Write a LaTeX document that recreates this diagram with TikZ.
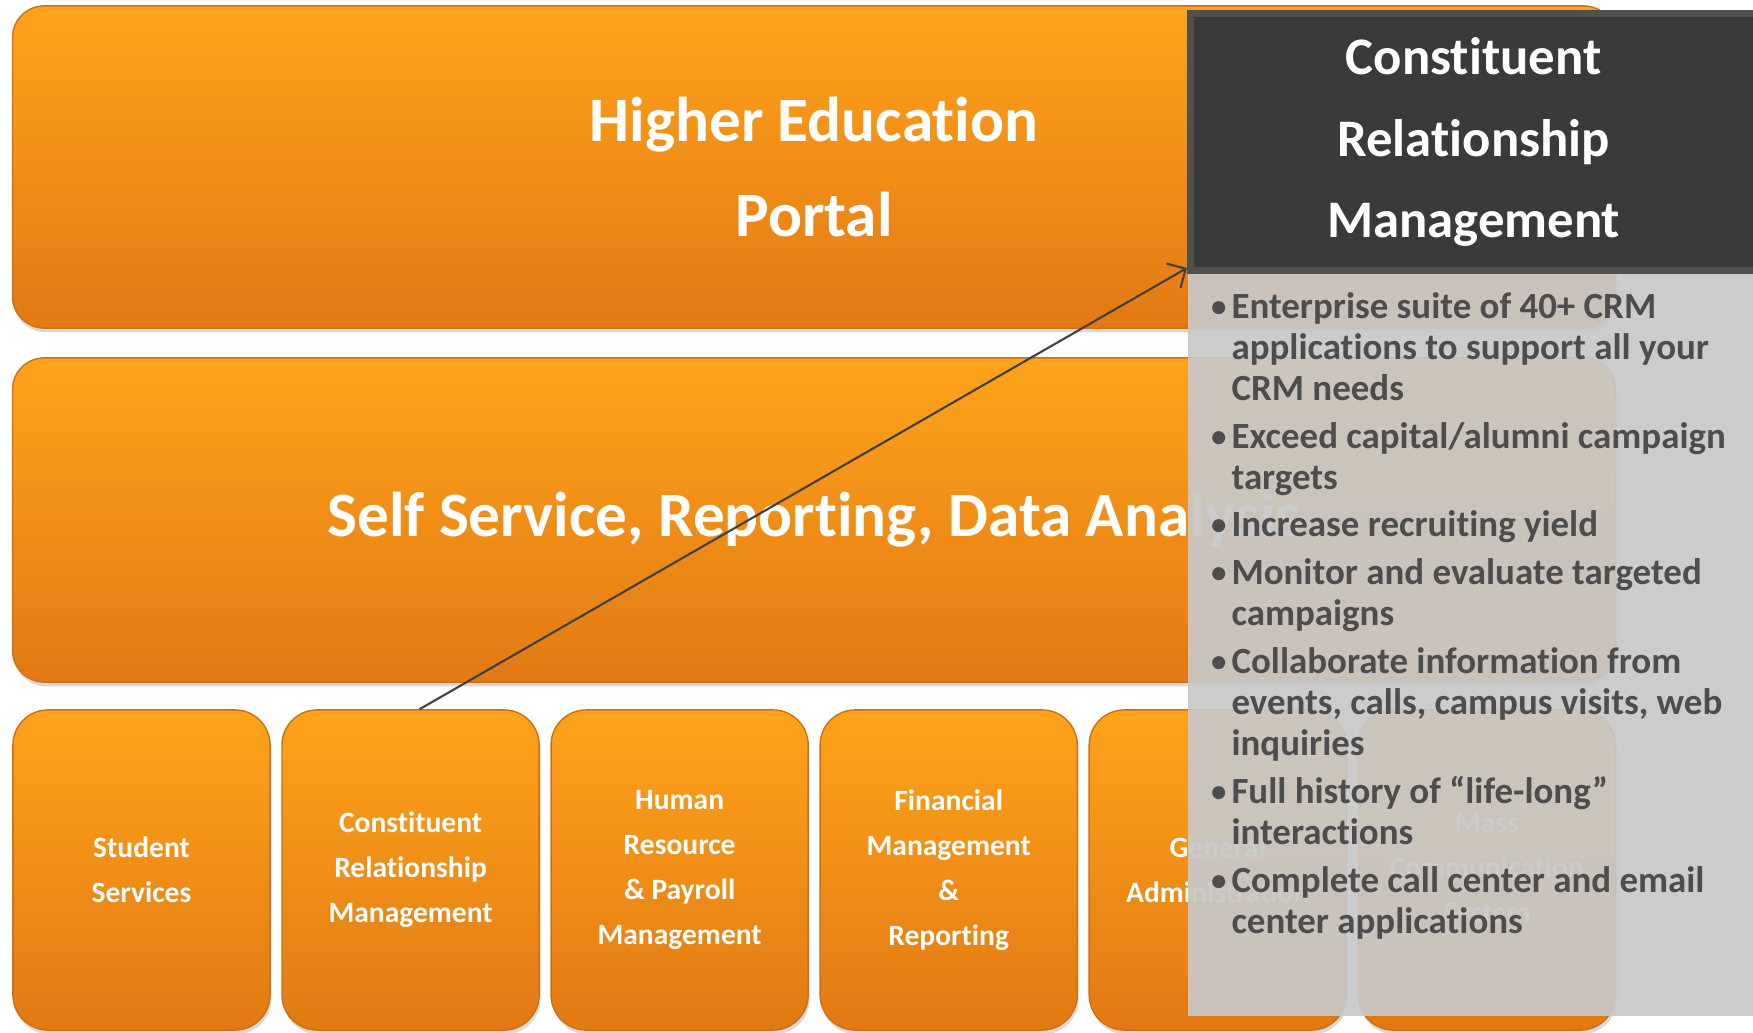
\documentclass[tikz,border=0pt]{standalone}
\usepackage{fontspec}
\setmainfont[Ligatures=NoCommon]{Carlito}
\usepackage{xcolor}
\usepackage{tikz}
\usetikzlibrary{positioning}
\usetikzlibrary{arrows.meta,shadows}
\definecolor{orangetop}{RGB}{254,163,27}
\definecolor{orangebot}{RGB}{226,121,20}
\definecolor{orangeline}{RGB}{205,112,18}
\definecolor{hdrgrey}{RGB}{58,58,58}
\definecolor{hdredge}{RGB}{80,80,80}
\definecolor{panelgrey}{RGB}{200,200,200}
\definecolor{bullettext}{RGB}{77,77,77}
\definecolor{arrowgrey}{RGB}{64,64,64}
\tikzset{edge/.style = {-{Straight Barb[length=4pt,width=8pt]}, draw=arrowgrey, semithick}}
\newcommand{\crmpt}{\makebox[6.2pt][l]{\textmd{\textbullet}}}

\begin{document}
\begin{tikzpicture}[x=0.01cm,y=-0.01cm,
    bar/.style={rectangle,rounded corners=9pt,top color=orangetop,bottom color=orangebot,
      draw=orangeline,line width=0.4pt,
      drop shadow={opacity=0.3,shadow xshift=0.4pt,shadow yshift=-1.2pt},
      text=white,font=\fontsize{18}{27}\selectfont\bfseries,align=center,
      minimum width=16.02cm,minimum height=3.22cm},
    module/.style={bar,rounded corners=10pt,font=\fontsize{8.4}{12.8}\selectfont\bfseries,
      minimum width=2.57cm,minimum height=3.2cm},
    hdr/.style={rectangle,fill=hdrgrey,draw=hdredge,line width=2pt,text=white,
      font=\fontsize{15}{23.2}\selectfont\bfseries,align=center,
      minimum width=5.66cm,minimum height=2.57cm,anchor=north west},
    infobox/.style={rectangle,fill=panelgrey,fill opacity=0.93,inner sep=0pt,
      minimum width=5.66cm,minimum height=7.47cm,anchor=north west},
    listtext/.style={text=bullettext,font=\fontsize{10.5}{11.75}\selectfont\bfseries,
      anchor=base west,inner sep=0pt}]
  \useasboundingbox (0,0) rectangle (1753,1033);

  % two wide layers
  \node[bar] (portal) at (814,167) {Higher Education\\Portal};
  \node[bar,minimum height=3.24cm] (self) at (814,520) {Self Service, Reporting, Data Analysis};

  % modules
  \node[module] (ss) at (141.5,870) {Student\\Services};
  \node[module,right=0.105cm of ss] (crm) {Constituent\\Relationship\\Management};
  \node[module,right=0.105cm of crm] (hr) {Human\\Resource\\\& Payroll\\Management};
  \node[module,right=0.105cm of hr] (fin) {Financial\\Management\\\&\\Reporting};
  \node[module,right=0.105cm of fin] (ga) {General\\Administration};
  \node[module,right=0.105cm of ga] (mass) {Mass\\Communication\\System};

  % callout
  \node[infobox] (info) at (1187,268) {};
  \node[hdr] (head) at (1187,10) {Constituent\\Relationship\\Management};
  \node[listtext] (list) at ([xshift=0.22cm,yshift=-0.50cm]info.north west) {%
    \begin{tabular}[t]{@{}l@{}l@{}}
      \crmpt & Enterprise suite of 40+ CRM\\
             & applications to support all your\\
             & CRM needs\\[1.75pt]
      \crmpt & Exceed capital/alumni campaign\\
             & targets\\[1.75pt]
      \crmpt & Increase recruiting yield\\[1.75pt]
      \crmpt & Monitor and evaluate targeted\\
             & campaigns\\[1.75pt]
      \crmpt & Collaborate information from\\
             & events, calls, campus visits, web\\
             & inquiries\\[1.75pt]
      \crmpt & Full history of “life-long”\\
             & interactions\\[1.75pt]
      \crmpt & Complete call center and email\\
             & center applications
    \end{tabular}};

  \draw[edge] ([xshift=0.09cm]crm.north) -- (info.north west);
\end{tikzpicture}
\end{document}
